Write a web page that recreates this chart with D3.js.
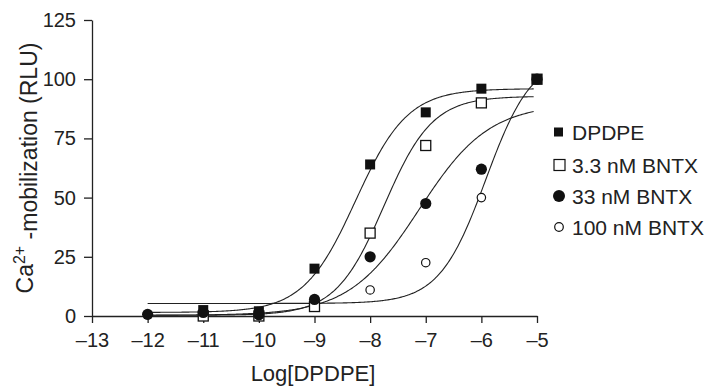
<!DOCTYPE html>
<meta charset="utf-8">
<title>DPDPE BNTX</title>
<style>

body {
  margin: 0;
  background: #fff;
  font-family: "Liberation Sans", Arial, sans-serif;
}

.axis path,
.axis line {
  stroke: #222;
  stroke-width: 1.3;
}

.axis text {
  font-size: 20px;
  fill: #222;
  font-family: "Liberation Sans", Arial, sans-serif;
}

.fit {
  fill: none;
  stroke: #222;
  stroke-width: 1.1;
}

</style>
<svg width="708" height="386"></svg>
<script src="https://cdn.jsdelivr.net/npm/d3@7"></script>
<script>

// log doses
var doses = [-12, -11, -10, -9, -8, -7, -6, -5];

// measured points, null = no point
var dpdpe    = [null, 2.5, 2, 20, 64, 86, 96, 100];
var bntx3_3  = [null, 0, 0, 4, 35, 72, 90, 100];
var bntx33   = [0.7, 1.5, 0.5, 7, 25, 47.5, 62, 100];
var bntx100  = [0.5, 1, 0.5, 4, 11, 22.5, 50, 100];

var seriesNames = ["DPDPE", "3.3 nM BNTX", "33 nM BNTX", "100 nM BNTX"];

// fitted curve parameters (bottom, top, logEC50, hill)
var fitBottom = [1.5, 0.3, 0.3, 5.3];
var fitTop    = [96, 92.8, 89.6, 110];
var fitLogEC  = [-8.26, -7.75, -7.12, -5.92];
var fitHill   = [0.93, 1.0, 0.69, 1.04];
var fitRange  = [-12, -5.05];

var xTicks = [-13, -12, -11, -10, -9, -8, -7, -6, -5];
var yTicks = [0, 25, 50, 75, 100, 125];

var svg = d3.select("svg");

var x = d3.scaleLinear().domain([-13, -5]).range([92, 537]);
var y = d3.scaleLinear().domain([0, 125]).range([316, 20]);

// axes
svg.append("g")
    .attr("class", "axis")
    .attr("transform", "translate(0," + y(0) + ")")
    .call(d3.axisBottom(x).tickValues(xTicks).tickSize(7).tickPadding(10).tickSizeOuter(0)
      .tickFormat(function(d) { return "\u2013" + Math.abs(d); }));

svg.append("g")
    .attr("class", "axis")
    .attr("transform", "translate(" + x(-13) + ",0)")
    .call(d3.axisLeft(y).tickValues(yTicks).tickSize(8).tickPadding(8).tickSizeOuter(0));

// fitted curves
function logistic(i, v) {
  return fitBottom[i] + (fitTop[i] - fitBottom[i]) / (1 + Math.pow(10, (fitLogEC[i] - v) * fitHill[i]));
}

var line = d3.line()
    .x(function(d) { return x(d[0]); })
    .y(function(d) { return y(d[1]); })
    .curve(d3.curveLinear);

for (var i = 0; i < 4; i++) {
  var pts = d3.range(fitRange[0], fitRange[1] + 0.001, 0.02).map(function(v) {
    return [v, logistic(i, v)];
  });
  svg.append("path").attr("class", "fit").attr("d", line(pts));
}

// marker painters
function drawMarker(g, kind, cx, cy) {
  if (kind === 0) {
    g.append("rect").attr("x", cx - 5).attr("y", cy - 5).attr("width", 10).attr("height", 10)
      .attr("fill", "#111");
  } else if (kind === 1) {
    g.append("rect").attr("x", cx - 5).attr("y", cy - 5).attr("width", 10).attr("height", 10)
      .attr("fill", "#fff").attr("stroke", "#111").attr("stroke-width", 1.3);
  } else if (kind === 2) {
    g.append("circle").attr("cx", cx).attr("cy", cy).attr("r", 5.6).attr("fill", "#111");
  } else {
    g.append("circle").attr("cx", cx).attr("cy", cy).attr("r", 4.2)
      .attr("fill", "#fff").attr("stroke", "#111").attr("stroke-width", 1.2);
  }
}

var allSeries = [dpdpe, bntx3_3, bntx33, bntx100];
var drawOrder = [3, 1, 2, 0];

var marks = svg.append("g");
drawOrder.forEach(function(k) {
  allSeries[k].forEach(function(v, j) {
    if (v === null) return;
    drawMarker(marks, k, x(doses[j]), y(v));
  });
});

// legend
var legendRows = [132, 165, 196, 227];
var legend = svg.append("g");
seriesNames.forEach(function(name, k) {
  var cy = legendRows[k];
  if (k === 0) {
    legend.append("rect").attr("x", 554).attr("y", cy - 4.5).attr("width", 9).attr("height", 9).attr("fill", "#111");
  } else if (k === 1) {
    legend.append("rect").attr("x", 554).attr("y", cy - 5.5).attr("width", 11).attr("height", 11)
      .attr("fill", "#fff").attr("stroke", "#111").attr("stroke-width", 1.2);
  } else if (k === 2) {
    legend.append("circle").attr("cx", 559).attr("cy", cy).attr("r", 6).attr("fill", "#111");
  } else {
    legend.append("circle").attr("cx", 559).attr("cy", cy).attr("r", 4.3)
      .attr("fill", "#fff").attr("stroke", "#111").attr("stroke-width", 1.2);
  }
  legend.append("text")
      .attr("x", 572)
      .attr("y", cy + 7.5)
      .style("font-size", "21px")
      .style("fill", "#222")
      .text(name);
});

// axis titles
svg.append("text")
    .attr("x", 313)
    .attr("y", 381)
    .attr("text-anchor", "middle")
    .style("font-size", "22px")
    .style("fill", "#222")
    .text("Log[DPDPE]");

var yt = svg.append("text")
    .attr("transform", "translate(33,168) rotate(-90)")
    .attr("text-anchor", "middle")
    .style("font-size", "23px")
    .style("fill", "#222");
yt.append("tspan").text("Ca");
yt.append("tspan").attr("dy", "-0.5em").style("font-size", "16px").text("2+");
yt.append("tspan").attr("dy", "0.5em").text(" -mobilization (RLU)");

</script>
